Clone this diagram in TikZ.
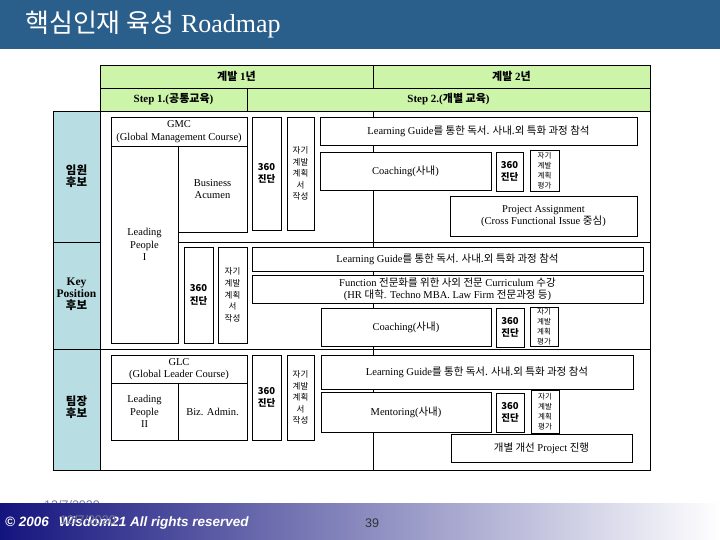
\documentclass[tikz,border=0pt]{standalone}
\usepackage{fontspec}
\setmainfont{Liberation Serif}
\setsansfont{Liberation Sans}
\newfontfamily\kr{Noto Sans CJK KR}
\newcommand\KR[1]{{\kr #1}}
\definecolor{titlebg}{HTML}{2B5F8B}
\definecolor{hdrgreen}{HTML}{CCF5AA}
\definecolor{lcol}{HTML}{B8DDE2}
\definecolor{navyft}{HTML}{14147E}
\definecolor{midft}{HTML}{A6A6C8}
\definecolor{dategray}{HTML}{7A7A96}
\newcommand\bxn[6][]{\node[bx,#1, minimum width={(#5-#3)*1pt}, minimum height={(#6-#4)*1pt}] (#2) at ({(#3+#5)/2},{(#4+#6)/2})}
\begin{document}
\begin{tikzpicture}[x=1pt,y=-1pt,
  bx/.style={draw, fill=white, line width=0.8pt, inner sep=0pt, align=center,
     font=\fontsize{10.5}{12.4}\selectfont},
  hd/.style={fill=hdrgreen, font=\bfseries\fontsize{11}{13}\selectfont},
  dgn/.style={font=\kr\bfseries\fontsize{9.5}{12.5}\selectfont},
  plan/.style={font=\kr\fontsize{8.5}{11.6}\selectfont},
  evl/.style={font=\kr\fontsize{7.5}{9.8}\selectfont},
  lab/.style={inner sep=0pt, align=center, font=\bfseries\fontsize{11.5}{12}\selectfont},
  tl/.style={line width=0.8pt}]
\useasboundingbox (0,0) rectangle (720,540);
% title
\fill[titlebg] (0,0) rectangle (720,49);
\node[anchor=west, text=white, inner sep=0pt, font=\fontsize{26}{29}\selectfont] (title) at (25,25) {\KR{핵심인재 육성} Roadmap};
% header
\bxn[hd]{h1}{100}{65}{373}{88}{\KR{계발} 1\KR{년}};
\bxn[hd]{h2}{373}{65}{650}{88}{\KR{계발} 2\KR{년}};
\bxn[hd]{h3}{100}{88}{247}{111}{Step 1.(\KR{공통교육})};
\bxn[hd]{h4}{247}{88}{650}{111}{Step 2.(\KR{개별 교육})};
% table frame
\fill[lcol] (53,111) rectangle (100,470);
\draw[tl] (53,111) rectangle (650,470);
\draw[tl] (100,111) -- (100,470);
\draw[tl] (53,242) -- (100,242);
\draw[tl] (178,242) -- (650,242);
\draw[tl] (53,349) -- (650,349);
\draw[tl] (373,111) -- (373,470);
% left labels
\node[lab] (l1) at (76.5,176.5) {\KR{임원}\\\KR{후보}};
\node[lab] (l2) at (76.5,294) {Key\\Position\\\KR{후보}};
\node[lab] (l3) at (76.5,407) {\KR{팀장}\\\KR{후보}};
% row 1
\bxn{gmc}{111}{117}{247}{146}{GMC\\(Global Management Course)};
\bxn{ba}{178}{146}{247}{232}{Business\\Acumen};
\bxn{lp1}{111}{146}{178}{343}{Leading\\People\\I};
\bxn[dgn]{d1}{252}{117}{281}{230}{360\\진단};
\bxn[plan]{p1}{287}{117}{314}{230}{자기\\계발\\계획\\서\\작성};
\bxn{lg1}{320}{117}{637}{145}{Learning Guide\KR{를 통한 독서. 사내.외 특화 과정 참석}};
\bxn{co1}{320}{152}{491}{190}{Coaching(\KR{사내})};
\bxn[dgn]{d1b}{496}{152}{523}{191}{360\\진단};
\bxn[evl]{e1}{530}{150}{559}{191}{자기\\계발\\계획\\평가};
\bxn{pa}{450}{196}{637}{236}{Project Assignment\\(Cross Functional Issue \KR{중심})};
% row 2
\bxn[dgn]{d2}{184}{247}{213}{343}{360\\진단};
\bxn[plan]{p2}{218}{247}{247}{343}{자기\\계발\\계획\\서\\작성};
\bxn{lg2}{252}{247}{643}{271}{Learning Guide\KR{를 통한 독서. 사내.외 특화 과정 참석}};
\bxn{fn}{252}{275}{643}{303}{Function \KR{전문화를 위한 사외 전문} Curriculum \KR{수강}\\(HR \KR{대학}. Techno MBA. Law Firm \KR{전문과정 등})};
\bxn{co2}{321}{308}{491}{346}{Coaching(\KR{사내})};
\bxn[dgn]{d2b}{496}{308}{524}{347}{360\\진단};
\bxn[evl]{e2}{530}{307}{558}{346}{자기\\계발\\계획\\평가};
% row 3
\bxn{glc}{111}{355}{247}{383}{GLC\\(Global Leader Course)};
\bxn{lp2}{111}{383}{178}{440}{Leading\\People\\II};
\bxn{biz}{178}{383}{247}{440}{Biz. Admin.};
\bxn[dgn]{d3}{252}{355}{281}{440}{360\\진단};
\bxn[plan]{p3}{287}{355}{314}{440}{자기\\계발\\계획\\서\\작성};
\bxn{lg3}{321}{355}{633}{389}{Learning Guide\KR{를 통한 독서. 사내.외 특화 과정 참석}};
\bxn{mt}{321}{392}{491}{432}{Mentoring(\KR{사내})};
\bxn[dgn]{d3b}{496}{393}{524}{432}{360\\진단};
\bxn[evl]{e3}{531}{390}{559}{433}{자기\\계발\\계획\\평가};
\bxn{ip}{451}{434}{632}{462}{\KR{개별 개선} Project \KR{진행}};
% footer
\node[anchor=west, inner sep=0pt, text=dategray, font=\sffamily\fontsize{12.5}{14}\selectfont] (dt1) at (44,505) {12/7/2020};
\shade[left color=navyft, middle color=midft, right color=white] (0,503) rectangle (720,540);
\node[anchor=west, inner sep=0pt, text=white, font=\sffamily\bfseries\itshape\fontsize{13.5}{15}\selectfont] (copy) at (5,523) {\textcopyright{} 2006\hspace{10pt}Wisdom21 All rights reserved};
\node[anchor=west, inner sep=0pt, text=dategray, font=\sffamily\fontsize{12.5}{14}\selectfont] (dt2) at (60,520) {12/7/2020};
\node[anchor=west, inner sep=0pt, text=black!80, font=\sffamily\fontsize{12.5}{14}\selectfont] (pg) at (365,523) {39};
\end{tikzpicture}
\end{document}
